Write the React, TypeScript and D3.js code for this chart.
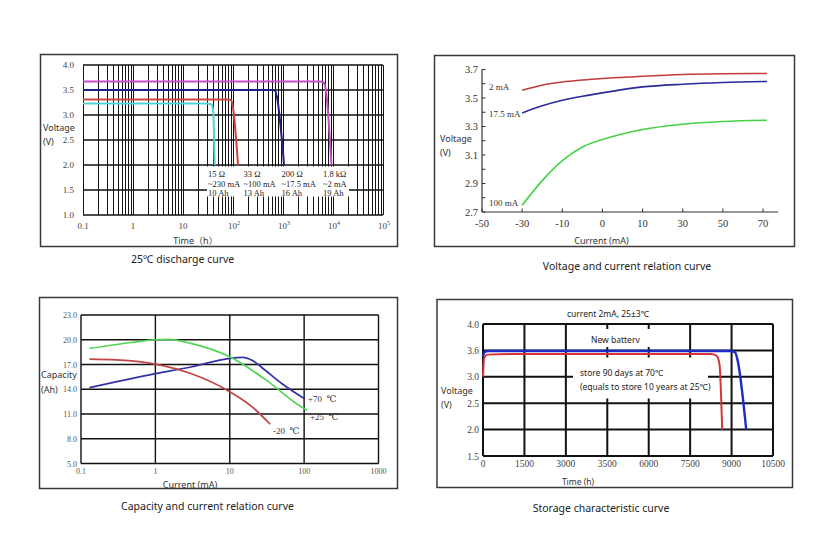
import { useEffect, useRef } from 'react'
import * as d3 from 'd3'

const SERIF = '"Liberation Serif", "DejaVu Serif", serif'
const SANS = '"Noto Sans", "Noto Sans CJK SC", sans-serif'

// 25℃ discharge curve
const dischargeLoads = ['15 Ω', '33 Ω', '200 Ω', '1.8 kΩ']
const dischargeCurrents = ['~230 mA', '~100 mA', '~17.5 mA', '~2 mA']
const dischargeCapacity = ['10 Ah', '13 Ah', '16 Ah', '19 Ah']
const dischargeColors = ['#52d4d4', '#d0443f', '#1e1e88', '#c64ac9']
const dischargeTime = [
  [0.1, 30, 37, 40, 43],
  [0.1, 80, 93, 100, 126],
  [0.1, 600, 700, 760, 1050],
  [0.1, 5500, 6500, 7200, 9300],
]
const dischargeVolt = [
  [3.23, 3.23, 3.21, 3.1, 2.0],
  [3.31, 3.31, 3.29, 3.15, 2.0],
  [3.5, 3.5, 3.48, 3.35, 2.0],
  [3.67, 3.67, 3.65, 3.5, 2.0],
]
const dischargeTimeTicks = [0.1, 1, 10, 100, 1000, 1e4, 1e5]
const dischargeVoltTicks = [1.0, 1.5, 2.0, 2.5, 3.0, 3.5, 4.0]

// Voltage and current relation curve
const vcCurrentTicks = [-50, -30, -10, 0, 10, 30, 50, 70]
const vcVoltTicks = [2.7, 2.9, 3.1, 3.3, 3.5, 3.7]
const vcSeries = ['2 mA', '17.5 mA', '100 mA']
const vcColors = ['#c23b3b', '#2b2b98', '#44d244']
const vcCurrent = [-30, -20, -10, -5, 0, 10, 30, 50, 72]
const vcVolt = [
  [3.555, 3.59, 3.612, 3.626, 3.637, 3.653, 3.665, 3.67, 3.672],
  [3.395, 3.445, 3.484, 3.512, 3.536, 3.578, 3.597, 3.609, 3.616],
  [2.747, 2.92, 3.06, 3.156, 3.208, 3.279, 3.316, 3.335, 3.344],
]

// Capacity and current relation curve
const capCurrentTicks = [0.1, 1, 10, 100, 1000]
const capTicks = [5.0, 8.0, 11.0, 14.0, 17.0, 20.0, 23.0]
const capSeries = ['+70  ℃', '+25  ℃', '-20  ℃']
const capColors = ['#3434a4', '#52d452', '#c24444']
const capCurrent = [
  [0.13, 1, 3, 10, 15, 20, 30, 50, 100],
  [0.13, 0.5, 1, 1.5, 3, 10, 30, 100, 110],
  [0.13, 0.3, 1, 3, 10, 20, 35],
]
const capValues = [
  [14.2, 15.9, 16.7, 17.74, 17.86, 17.5, 16.3, 14.7, 12.88],
  [18.95, 19.7, 20.0, 20.05, 19.56, 17.93, 15.2, 11.66, 11.46],
  [17.65, 17.55, 17.05, 15.9, 13.7, 11.86, 9.76],
]

// Storage characteristic curve
const storeTimeTicks = [0, 1500, 3000, 4500, 6000, 7500, 9000, 10500]
const storeTimeLabels = ['0', '1500', '3000', '3500', '6000', '7500', '9000', '10500']
const storeVoltTicks = [1.5, 2.0, 2.5, 3.0, 3.5, 4.0]
const storeVoltLabels = ['1.5', '2.0', '2.5', '3.0', '3.6', '4.0']
const storeColors = ['#d43434', '#1c2cc4']
const storeTime = [
  [0, 40, 150, 1000, 8250, 8450, 8560, 8660],
  [0, 60, 200, 8950, 9130, 9230, 9530],
]
const storeVolt = [
  [3.0, 3.35, 3.42, 3.43, 3.43, 3.4, 3.25, 2.0],
  [3.38, 3.47, 3.49, 3.49, 3.46, 3.28, 2.0],
]

function txt(g: any, x: number, y: number, s: string, size: number, family: string, anchor = 'start', fill = '#333') {
  return g
    .append('text')
    .attr('x', x)
    .attr('y', y)
    .attr('font-size', size)
    .attr('font-family', family)
    .attr('text-anchor', anchor)
    .attr('fill', fill)
    .style('white-space', 'pre')
    .text(s)
}

function frame(g: any, x0: number, y0: number, x1: number, y1: number) {
  g.append('rect')
    .attr('x', x0)
    .attr('y', y0)
    .attr('width', x1 - x0)
    .attr('height', y1 - y0)
    .attr('fill', 'none')
    .attr('stroke', '#3a3a3a')
    .attr('stroke-width', 1.5)
}

function drawDischarge(svg: any) {
  const g = svg.append('g')
  frame(g, 40.5, 54.5, 397.5, 246.5)

  const x = d3.scaleLog().domain([0.1, 1e5]).range([83, 383])
  const y = d3.scaleLinear().domain([1, 4]).range([215, 65])

  const minor: number[] = []
  for (let e = -1; e < 5; e++) for (let k = 1; k < 10; k++) minor.push(k * Math.pow(10, e))
  minor.push(1e5)

  g.selectAll('.vg')
    .data(minor)
    .enter()
    .append('line')
    .attr('x1', (d: number) => Math.round(x(d)) + 0.5)
    .attr('x2', (d: number) => Math.round(x(d)) + 0.5)
    .attr('y1', y(4))
    .attr('y2', y(1))
    .attr('stroke', '#111')
    .attr('stroke-width', 1)

  g.selectAll('.hg')
    .data(dischargeVoltTicks)
    .enter()
    .append('line')
    .attr('x1', x(0.1))
    .attr('x2', x(1e5))
    .attr('y1', (d: number) => y(d))
    .attr('y2', (d: number) => y(d))
    .attr('stroke', '#111')
    .attr('stroke-width', 1.3)

  // white box behind the load annotations
  g.append('rect').attr('x', 207).attr('y', 166.5).attr('width', 142).attr('height', 30).attr('fill', '#fff')

  const line = d3
    .line<number>()
    .x((d: any) => x(d[0]))
    .y((d: any) => y(d[1]))
    .curve(d3.curveMonotoneX)

  dischargeTime.forEach((ts, i) => {
    const pts: any = ts.map((t, j) => [t, dischargeVolt[i][j]])
    g.append('path')
      .attr('d', line(pts))
      .attr('fill', 'none')
      .attr('stroke', dischargeColors[i])
      .attr('stroke-width', 2)
  })

  const cols = [208, 243.5, 281.5, 323]
  dischargeLoads.forEach((s, i) => {
    txt(g, cols[i], 177, s, 8.5, SERIF, 'start', '#222')
    txt(g, cols[i], 186.5, dischargeCurrents[i], 8.5, SERIF, 'start', '#222')
    txt(g, cols[i], 196, dischargeCapacity[i], 8.5, SERIF, 'start', '#222')
  })

  dischargeVoltTicks.forEach((v) => txt(g, 74, y(v) + 3, v.toFixed(1), 9, SERIF, 'end', '#444'))

  dischargeTimeTicks.forEach((t) => {
    const e = Math.round(Math.log10(t))
    const t1 = txt(g, x(t), 228.5, e < 2 ? String(t) : '10', 9, SERIF, 'middle', '#444')
    if (e >= 2) {
      t1.attr('text-anchor', 'start').attr('x', x(t) - 5)
      t1.append('tspan').attr('dy', -3.5).attr('font-size', 6).text(String(e))
    }
  })

  txt(g, 43, 130.5, 'Voltage', 9, SANS)
  txt(g, 43, 144.5, '(V)', 9, SANS)
  txt(g, 195.5, 243.5, 'Time（h）', 9, SANS, 'middle')
  txt(g, 131, 263, '25℃ discharge curve', 10.5, SANS, 'start', '#222')
}

function drawVoltCurrent(svg: any) {
  const g = svg.append('g')
  frame(g, 434.5, 55.5, 794.5, 246.5)

  const x0 = 482
  const step = 40.15
  const x = d3
    .scaleLinear()
    .domain(vcCurrentTicks)
    .range(vcCurrentTicks.map((_, i) => x0 + i * step))
  const y = d3.scaleLinear().domain([2.7, 3.7]).range([212, 69.5])

  g.append('line').attr('x1', x0).attr('x2', x0).attr('y1', y(3.7)).attr('y2', y(2.7)).attr('stroke', '#333').attr('stroke-width', 1.2)
  g.append('line').attr('x1', x0).attr('x2', 778).attr('y1', y(2.7)).attr('y2', y(2.7)).attr('stroke', '#333').attr('stroke-width', 1.2)

  const minorV = d3.range(27, 38).map((v) => v / 10)
  g.selectAll('.yt')
    .data(minorV)
    .enter()
    .append('line')
    .attr('x1', x0)
    .attr('x2', x0 + 3.5)
    .attr('y1', (d: number) => y(d))
    .attr('y2', (d: number) => y(d))
    .attr('stroke', '#333')
  g.selectAll('.xt')
    .data(vcCurrentTicks)
    .enter()
    .append('line')
    .attr('x1', (d: number) => x(d))
    .attr('x2', (d: number) => x(d))
    .attr('y1', y(2.7))
    .attr('y2', y(2.7) - 3.5)
    .attr('stroke', '#333')

  vcVoltTicks.forEach((v) => txt(g, 478, y(v) + 3.5, v.toFixed(1), 10.5, SERIF, 'end', '#333'))
  vcCurrentTicks.forEach((c) => txt(g, x(c), 227, String(c), 10.5, SERIF, 'middle', '#333'))

  const line = d3
    .line<number>()
    .x((d: any) => x(d[0]))
    .y((d: any) => y(d[1]))
    .curve(d3.curveMonotoneX)

  vcVolt.forEach((vs, i) => {
    const pts: any = vs.map((v, j) => [vcCurrent[j], v])
    g.append('path')
      .attr('d', line(pts))
      .attr('fill', 'none')
      .attr('stroke', vcColors[i])
      .attr('stroke-width', 1.6)
  })

  const labelY = [90, 116.5, 206]
  vcSeries.forEach((s, i) => txt(g, 489, labelY[i], s, 9, SERIF, 'start', '#333'))

  txt(g, 440, 141.5, 'Voltage', 9, SANS)
  txt(g, 440, 155.5, '(V)', 9, SANS)
  txt(g, 601.5, 244, 'Current (mA)', 9, SANS, 'middle')
  txt(g, 627, 270, 'Voltage and current relation curve', 10.5, SANS, 'middle', '#222')
}

function drawCapacity(svg: any) {
  const g = svg.append('g')
  frame(g, 39.5, 297.5, 397.5, 488.5)

  const x = d3.scaleLog().domain([0.1, 1000]).range([81, 378.5])
  const y = d3.scaleLinear().domain([5, 23]).range([463.5, 315])

  g.selectAll('.vg')
    .data(capCurrentTicks)
    .enter()
    .append('line')
    .attr('x1', (d: number) => x(d))
    .attr('x2', (d: number) => x(d))
    .attr('y1', y(23))
    .attr('y2', y(5))
    .attr('stroke', '#111')
    .attr('stroke-width', 1.4)
  g.selectAll('.hg')
    .data(capTicks)
    .enter()
    .append('line')
    .attr('x1', x(0.1))
    .attr('x2', x(1000))
    .attr('y1', (d: number) => y(d))
    .attr('y2', (d: number) => y(d))
    .attr('stroke', '#111')
    .attr('stroke-width', 1.4)

  const line = d3
    .line<number>()
    .x((d: any) => x(d[0]))
    .y((d: any) => y(d[1]))
    .curve(d3.curveMonotoneX)

  capValues.forEach((vs, i) => {
    const pts: any = vs.map((v, j) => [capCurrent[i][j], v])
    g.append('path')
      .attr('d', line(pts))
      .attr('fill', 'none')
      .attr('stroke', capColors[i])
      .attr('stroke-width', 1.7)
  })

  capTicks.forEach((v) => txt(g, 77, y(v) + 3, v.toFixed(1), 8, SERIF, 'end', '#555'))
  capCurrentTicks.forEach((c) => txt(g, x(c), 474, String(c), 8, SERIF, 'middle', '#555'))

  const lp = [
    [308, 402],
    [310, 420],
    [273, 434],
  ]
  capSeries.forEach((s, i) => txt(g, lp[i][0], lp[i][1], s, 9, SERIF, 'start', '#333'))

  txt(g, 41, 378, 'Capacity', 9, SANS)
  txt(g, 41, 393, '(Ah)', 9, SANS)
  txt(g, 190, 487.5, 'Current (mA)', 9, SANS, 'middle')
  txt(g, 207.5, 509.5, 'Capacity and current relation curve', 10.5, SANS, 'middle', '#222')
}

function drawStorage(svg: any) {
  const g = svg.append('g')
  frame(g, 437, 299.5, 792.5, 487.5)

  const x = d3.scaleLinear().domain([0, 10500]).range([483, 773])
  const y = d3.scaleLinear().domain([1.5, 4.0]).range([456, 324])

  g.selectAll('.vg')
    .data(storeTimeTicks)
    .enter()
    .append('line')
    .attr('x1', (d: number) => x(d))
    .attr('x2', (d: number) => x(d))
    .attr('y1', y(4))
    .attr('y2', y(1.5))
    .attr('stroke', '#111')
    .attr('stroke-width', 2)
  g.selectAll('.hg')
    .data(storeVoltTicks)
    .enter()
    .append('line')
    .attr('x1', x(0))
    .attr('x2', x(10500))
    .attr('y1', (d: number) => y(d))
    .attr('y2', (d: number) => y(d))
    .attr('stroke', '#111')
    .attr('stroke-width', 2)

  // white boxes behind the notes
  g.append('rect').attr('x', 580).attr('y', 329).attr('width', 100).attr('height', 18).attr('fill', '#fff')
  g.append('rect').attr('x', 573).attr('y', 357.5).attr('width', 135).attr('height', 41).attr('fill', '#fff')

  const line = d3
    .line<number>()
    .x((d: any) => x(d[0]))
    .y((d: any) => y(d[1]))
    .curve(d3.curveMonotoneX)

  storeVolt.forEach((vs, i) => {
    const pts: any = vs.map((v, j) => [storeTime[i][j], v])
    g.append('path')
      .attr('d', line(pts))
      .attr('fill', 'none')
      .attr('stroke', storeColors[i])
      .attr('stroke-width', i === 0 ? 2 : 2.4)
  })

  storeVoltTicks.forEach((v, i) => txt(g, 479, y(v) + 3.5, storeVoltLabels[i], 9.5, SERIF, 'end', '#444'))
  storeTimeTicks.forEach((t, i) => txt(g, x(t), 467, storeTimeLabels[i], 9.5, SERIF, 'middle', '#444'))

  txt(g, 567, 317, 'current 2mA, 25±3℃', 8.5, SANS, 'start', '#222')
  txt(g, 591, 342.5, 'New batterv', 8.5, SANS, 'start', '#222')
  txt(g, 580, 376, 'store 90 days at 70℃', 8.5, SANS, 'start', '#222')
  txt(g, 580, 390, '(equals to store 10 years at 25℃)', 8.5, SANS, 'start', '#222')

  txt(g, 441, 394, 'Voltage', 9, SANS)
  txt(g, 441, 408, '(V)', 9, SANS)
  txt(g, 578, 485, 'Time (h)', 8.5, SANS, 'middle')
  txt(g, 601, 511.5, 'Storage characteristic curve', 10.5, SANS, 'middle', '#222')
}

export default function App() {
  const svgRef = useRef<SVGSVGElement>(null)

  useEffect(() => {
    if (!svgRef.current) return
    const svg = d3.select(svgRef.current)
    svg.selectAll('*').remove()
    drawDischarge(svg)
    drawVoltCurrent(svg)
    drawCapacity(svg)
    drawStorage(svg)
  }, [])

  return (
    <div style={{ position: 'absolute', left: 0, top: 0 }}>
      <svg ref={svgRef} width={837} height={544} style={{ display: 'block', background: '#fff' }} />
    </div>
  )
}
